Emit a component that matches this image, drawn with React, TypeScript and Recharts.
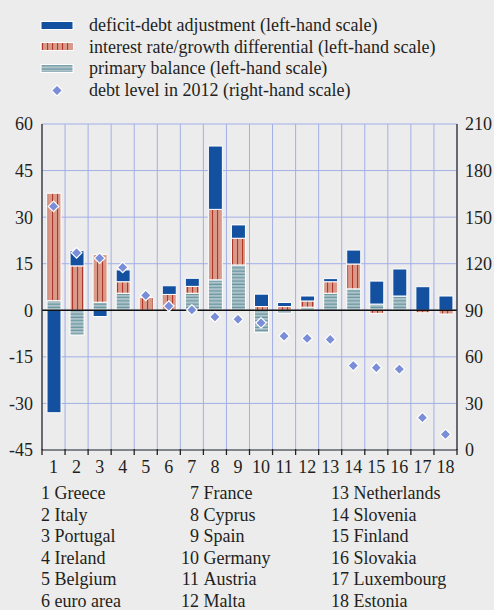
import React from "react";
import {
  ComposedChart,
  Bar,
  Line,
  XAxis,
  YAxis,
  CartesianGrid,
  ReferenceLine,
} from "recharts";

// values (percentage points of GDP / % of GDP)
const countries = [
  "1", "2", "3", "4", "5", "6", "7", "8", "9",
  "10", "11", "12", "13", "14", "15", "16", "17", "18",
];
const primaryBalance = [
  3.1, -8.0, 2.6, 5.5, null, null, 5.5, 9.8, 14.6,
  -7.1, -1.0, 1.0, 5.5, 6.9, 2.0, 4.6, null, null,
];
const interestGrowth = [
  34.6, 14.3, 15.4, 3.7, 4.1, 5.1, 2.2, 22.7, 8.6,
  1.2, 1.2, 2.0, 3.7, 8.0, -1.0, null, -0.8, -1.2,
];
const deficitDebt = [
  -33.0, 4.9, -2.0, 3.8, null, 2.8, 2.6, 20.4, 4.3,
  4.0, 1.3, 1.6, 1.0, 4.5, 7.4, 8.7, 7.6, 4.6,
];
const debt2012 = [
  156.9, 127.0, 123.6, 117.6, 99.6, 92.7, 90.2, 85.8, 84.2,
  81.9, 73.4, 71.9, 71.2, 54.4, 53.0, 52.1, 20.8, 10.1,
];
const leftTicks = [-45, -30, -15, 0, 15, 30, 45, 60];
const rightTicks = [0, 30, 60, 90, 120, 150, 180, 210];
const countryNames = [
  "Greece", "Italy", "Portugal", "Ireland", "Belgium", "euro area",
  "France", "Cyprus", "Spain", "Germany", "Austria", "Malta",
  "Netherlands", "Slovenia", "Finland", "Slovakia", "Luxembourg", "Estonia",
];
const legendLabels = [
  "deficit-debt adjustment (left-hand scale)",
  "interest rate/growth differential (left-hand scale)",
  "primary balance (left-hand scale)",
  "debt level in 2012 (right-hand scale)",
];

const data = countries.map((c, i) => ({
  name: c,
  primary: primaryBalance[i],
  interest: interestGrowth[i],
  deficit: deficitDebt[i],
  debt: debt2012[i],
}));

const FONT = "'Liberation Serif', 'Times New Roman', serif";
const TXT = "#231f20";
const BLUE = "#1450a0";
const DIAMOND = "#7a8ed8";
const GRID = "#a3afe6";
const FS = 18;

const PLOT_LEFT = 42;
const PLOT_W = 415;
const BAND = PLOT_W / countries.length;
const vLines = Array.from({ length: countries.length + 1 }, (_, i) => PLOT_LEFT + i * BAND);

const Diamond = (props: any) => {
  const { cx, cy, index } = props;
  if (cx == null || cy == null) return null;
  const r = 5.3;
  return (
    <path
      key={`d-${index}`}
      d={`M${cx},${cy - r}L${cx + r},${cy}L${cx},${cy + r}L${cx - r},${cy}Z`}
      fill={DIAMOND}
      stroke='#fff'
      strokeWidth={1.2}
    />
  );
};

const XTick = (props: any) => {
  const { x, y, payload, index } = props;
  const left = x - BAND / 2;
  return (
    <g>
      <line x1={left} x2={left} y1={y - 1} y2={y + 5} stroke='#222' strokeWidth={1.3} />
      {index === countries.length - 1 && (
        <line x1={x + BAND / 2} x2={x + BAND / 2} y1={y - 1} y2={y + 5} stroke='#222' strokeWidth={1.3} />
      )}
      <text x={x} y={y + 23} textAnchor='middle' fill={TXT} fontSize={FS} fontFamily={FONT}>
        {payload.value}
      </text>
    </g>
  );
};

const Swatch = ({ kind }: { kind: number }) => {
  if (kind === 3)
    return (
      <svg width={34} height={12} style={{ display: "block" }}>
        <path d='M17,1L22.5,6.5L17,12L11.5,6.5Z' fill={DIAMOND} stroke='#fff' strokeWidth={1.2} />
      </svg>
    );
  const fill = kind === 0 ? BLUE : kind === 1 ? "url(#pInterest)" : "url(#pPrimary)";
  return (
    <svg width={34} height={12} style={{ display: "block" }}>
      <rect x={1} y={1.5} width={32} height={8} fill={fill} stroke='#fff' strokeWidth={1} />
    </svg>
  );
};

export default function App() {
  const cols = [
    { idx: [0, 1, 2, 3, 4, 5], numRight: 50 },
    { idx: [6, 7, 8, 9, 10, 11], numRight: 199 },
    { idx: [12, 13, 14, 15, 16, 17], numRight: 349 },
  ];

  return (
    <div
      style={{
        position: "absolute",
        left: 0,
        top: 0,
        width: 494,
        height: 610,
        background: "#ececec",
        fontFamily: FONT,
        color: TXT,
        overflow: "hidden",
      }}>
      {/* hatch patterns used by the bars */}
      <svg width={0} height={0} style={{ position: "absolute" }}>
        <defs>
          <pattern id='pInterest' width={5} height={4} patternUnits='userSpaceOnUse'>
            <rect width={5} height={4} fill='#d99a8a' />
            <rect x={2} width={1.1} height={4} fill='#b0382a' />
          </pattern>
          <pattern id='pPrimary' width={4} height={3.3} patternUnits='userSpaceOnUse'>
            <rect width={4} height={3.3} fill='#aec2c8' />
            <rect y={2.2} width={4} height={1} fill='#5b8f9b' />
          </pattern>
        </defs>
      </svg>

      {/* series legend */}
      <div style={{ position: "absolute", left: 40, top: 15 }}>
        {legendLabels.map((l, i) => (
          <div key={l} style={{ display: "flex", alignItems: "center", height: 21.5 }}>
            <Swatch kind={i} />
            <span style={{ marginLeft: 15, fontSize: FS, whiteSpace: "nowrap" }}>{l}</span>
          </div>
        ))}
      </div>

      <div style={{ position: "absolute", left: 0, top: 110 }}>
        <ComposedChart
          width={494}
          height={370}
          data={data}
          stackOffset='sign'
          margin={{ top: 14, right: 0, bottom: 0, left: 0 }}>
          <CartesianGrid
            yAxisId='left'
            stroke={GRID}
            strokeWidth={1}
            verticalPoints={vLines}
          />
          <XAxis
            dataKey='name'
            height={30}
            tickLine={false}
            tickSize={0}
            tickMargin={0}
            axisLine={{ stroke: "#6b6b6b", strokeWidth: 1.5 }}
            tick={<XTick />}
            interval={0}
          />
          <YAxis
            yAxisId='left'
            width={42}
            domain={[-45, 60]}
            ticks={leftTicks}
            tickLine={false}
            tickSize={0}
            tickMargin={9}
            axisLine={{ stroke: "#333", strokeWidth: 1.3 }}
            tick={{ fill: TXT, fontSize: FS, fontFamily: FONT }}
            allowDataOverflow
          />
          <YAxis
            yAxisId='right'
            orientation='right'
            width={37}
            domain={[0, 210]}
            ticks={rightTicks}
            tickLine={false}
            tickSize={0}
            tickMargin={8}
            axisLine={{ stroke: "#333", strokeWidth: 1.3 }}
            tick={{ fill: TXT, fontSize: FS, fontFamily: FONT, textAnchor: "start" }}
          />
          <Bar yAxisId='left' dataKey='primary' stackId='s' barSize={14} fill='url(#pPrimary)' stroke='#fff' strokeWidth={1} isAnimationActive={false} />
          <Bar yAxisId='left' dataKey='interest' stackId='s' barSize={14} fill='url(#pInterest)' stroke='#fff' strokeWidth={1} isAnimationActive={false} />
          <Bar yAxisId='left' dataKey='deficit' stackId='s' barSize={14} fill={BLUE} stroke='#fff' strokeWidth={1} isAnimationActive={false} />
          <ReferenceLine yAxisId='left' y={0} stroke='#111' strokeWidth={1.5} />
          <Line
            yAxisId='right'
            dataKey='debt'
            stroke='none'
            dot={Diamond}
            activeDot={false}
            isAnimationActive={false}
          />
        </ComposedChart>
      </div>

      {/* country key */}
      {cols.map((col, ci) => (
        <div key={ci}>
          {col.idx.map((k, r) => (
            <div
              key={k}
              style={{
                position: "absolute",
                top: 483 + r * 21.6,
                left: 0,
                width: 494,
                height: 21.6,
                lineHeight: "21.6px",
                fontSize: FS,
                whiteSpace: "nowrap",
              }}>
              <span style={{ position: "absolute", right: 494 - col.numRight }}>
                {countries[k]}
              </span>
              <span style={{ position: "absolute", left: col.numRight + 4.5 }}>
                {countryNames[k]}
              </span>
            </div>
          ))}
        </div>
      ))}
    </div>
  );
}
